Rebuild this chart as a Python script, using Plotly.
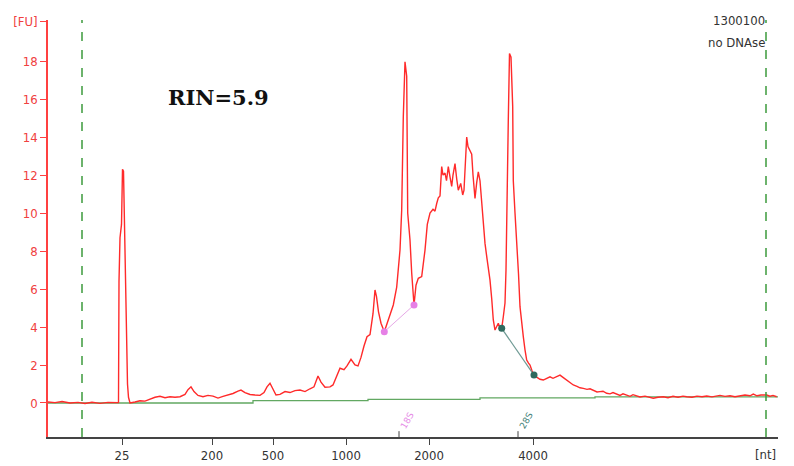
import plotly.graph_objects as go

# migration time (s) and fluorescence (FU)
time_s = [17.0, 17.7, 18.4, 19.2, 20.0, 20.7, 21.4, 22.2, 23.0, 23.7, 24.05,
          24.1, 24.2, 24.35, 24.45, 24.55, 24.65, 24.75, 24.85, 24.95, 25.05, 25.2,
          25.7, 26.2, 26.7, 27.2, 27.7, 28.2, 28.7, 29.2, 29.7, 30.2, 30.7, 31.0, 31.3, 31.6,
          32.0, 32.5, 33.0, 33.5, 34.0, 34.5, 35.0, 35.5, 36.0, 36.3, 36.7, 37.2, 37.7, 38.2,
          38.6, 38.9, 39.2, 39.5, 39.8, 40.2, 40.7, 41.2, 41.7, 42.2, 42.7, 43.2, 43.6, 44.0,
          44.3, 44.7, 45.2, 45.5, 45.9, 46.2, 46.6, 46.9, 47.3, 47.7, 48.0, 48.3, 48.6, 48.9,
          49.2, 49.5, 49.7, 49.85, 50.05, 50.3, 50.63, 50.9, 51.2, 51.53, 51.87, 52.2, 52.37,
          52.53, 52.7, 52.87, 52.97, 53.2, 53.37, 53.6, 53.8, 54.03, 54.37, 54.7, 54.93, 55.2,
          55.5, 55.7, 55.87, 56.03, 56.2, 56.37, 56.5, 56.7, 56.85, 57.03, 57.2, 57.37, 57.5,
          57.7, 57.87, 58.03, 58.27, 58.47, 58.6, 58.7, 58.87, 59.0, 59.2, 59.37, 59.5, 59.7,
          59.87, 60.03, 60.2, 60.37, 60.53, 60.7, 60.9, 61.05, 61.2, 61.37, 61.53, 61.7, 61.87,
          62.03, 62.2, 62.37, 62.53, 62.7, 62.8, 62.9, 63.03, 63.15, 63.3, 63.47, 63.53, 63.7,
          63.87, 64.05, 64.2, 64.37, 64.53, 64.7, 64.87, 65.05, 65.2, 65.4, 65.6, 65.9, 66.2,
          66.53, 66.87, 67.2, 67.5, 67.87, 68.2, 68.5, 68.87, 69.2, 69.53, 69.9, 70.2, 70.53,
          70.9, 71.2, 71.53, 71.9, 72.2, 72.5, 72.87, 73.2, 73.5, 73.87, 74.2, 74.5, 74.87,
          75.2, 75.5, 75.87, 76.2, 76.7, 77.2, 77.53, 78.0, 78.53, 79.0, 79.5, 80.0, 80.5,
          80.87, 81.4, 81.9, 82.4, 82.87, 83.4, 83.8, 84.2, 84.7, 85.2, 85.7, 86.2, 86.7,
          87.2, 87.53, 87.9, 88.3, 88.87, 89.2, 89.5, 89.87]
fu = [0.05, 0.02, 0.08, 0.0, 0.03, -0.03, 0.04, -0.02, 0.03, 0.0, 0.02,
      6.4, 8.7, 9.4, 12.3, 12.2, 9.1, 6.0, 2.8, 1.0, 0.3, 0.0,
      0.05, 0.12, 0.1, 0.2, 0.3, 0.35, 0.28, 0.33, 0.3, 0.33, 0.45, 0.7, 0.85, 0.6,
      0.4, 0.33, 0.4, 0.36, 0.26, 0.35, 0.42, 0.5, 0.62, 0.68, 0.55, 0.45, 0.42, 0.4,
      0.55, 0.85, 1.04, 0.7, 0.42, 0.45, 0.6, 0.55, 0.65, 0.68, 0.6, 0.75, 0.85, 1.42,
      1.1, 0.83, 0.85, 0.95, 1.5, 1.83, 1.75, 1.95, 2.3, 2.0, 1.95, 2.4, 3.0, 3.49,
      3.6, 4.7, 5.95, 5.6, 4.8, 4.2, 3.75, 4.2, 4.72, 5.16, 6.1, 8.05, 10.16,
      15.07, 17.96, 17.2, 10.0, 8.58, 6.84, 5.16, 6.2, 6.56, 6.65, 8.05, 9.4, 10.0,
      10.2, 10.1, 10.5, 10.8, 10.9, 12.44, 12.0, 12.1, 11.7, 12.44, 11.9, 11.4, 12.0,
      12.6, 11.8, 11.2, 11.56, 10.95, 11.2, 12.6, 14.0, 13.5, 13.3, 13.1, 12.0, 10.77,
      11.6, 12.17, 11.7, 10.5, 9.1, 8.4, 7.6, 7.1, 6.47, 5.5, 4.37, 3.84, 4.05,
      4.2, 3.95, 3.93, 4.54, 5.26, 7.0, 11.7, 14.9, 18.4, 18.2, 15.6, 11.7, 10.0,
      8.58, 6.8, 5.07, 4.1, 3.49, 2.8, 2.26, 2.1, 2.0, 1.7, 1.47, 1.35, 1.25,
      1.21, 1.3, 1.38, 1.3, 1.38, 1.47, 1.35, 1.21, 1.1, 0.95, 0.88, 0.8, 0.77,
      0.72, 0.75, 0.68, 0.58, 0.6, 0.62, 0.51, 0.48, 0.55, 0.47, 0.4, 0.48, 0.42,
      0.35, 0.44, 0.37, 0.32, 0.36, 0.28, 0.25, 0.3, 0.33, 0.28, 0.35, 0.3, 0.36,
      0.33, 0.3, 0.36, 0.33, 0.37, 0.32, 0.36, 0.4, 0.35, 0.38, 0.33, 0.37, 0.42,
      0.38, 0.47, 0.38, 0.42, 0.42, 0.36, 0.4, 0.33]

baseline_t = [17.0, 37.5, 49.0, 60.2, 71.7, 90.0]
baseline_fu = [0.0, 0.12, 0.19, 0.27, 0.32, 0.32]

s18_t = [50.63, 53.6]
s18_fu = [3.75, 5.16]
s28_t = [62.37, 65.6]
s28_fu = [3.93, 1.47]

marker_pos = [52.1, 64.0]
marker_labels = ["18S", "28S"]
marker_colors = ["#e68ae6", "#3f7f78"]

window_t = [20.4, 88.8]

xtick_vals = [24.4, 33.4, 39.5, 46.8, 55.1, 65.5]
xtick_text = ["25", "200", "500", "1000", "2000", "4000"]
ytick_vals = [0, 2, 4, 6, 8, 10, 12, 14, 16, 18, 20.1]
ytick_text = ["0", "2", "4", "6", "8", "10", "12", "14", "16", "18", "[FU]"]

TICKFONT = "DejaVu Sans Condensed, DejaVu Sans"

fig = go.Figure()
fig.add_trace(go.Scatter(x=baseline_t, y=baseline_fu, mode="lines", line_shape="hv",
                         line=dict(color="#62a862", width=1.3), hoverinfo="skip"))
fig.add_trace(go.Scatter(x=time_s, y=fu, mode="lines",
                         line=dict(color="#ff2a2a", width=1.4)))
fig.add_trace(go.Scatter(x=s18_t, y=s18_fu, mode="lines+markers",
                         line=dict(color="#e6a8e6", width=1),
                         marker=dict(color="#e680e6", size=7)))
fig.add_trace(go.Scatter(x=s28_t, y=s28_fu, mode="lines+markers",
                         line=dict(color="#6f9a94", width=1.2),
                         marker=dict(color="#2f6a5e", size=7)))

for t in window_t:
    fig.add_shape(type="line", xref="x", yref="paper", x0=t, x1=t, y0=0, y1=1,
                  line=dict(color="#3c9a3c", width=1.5, dash="dash"))

for t, lab, col in zip(marker_pos, marker_labels, marker_colors):
    fig.add_shape(type="line", xref="x", yref="paper", x0=t, x1=t, y0=0, y1=0.014,
                  line=dict(color="#444444", width=1))
    fig.add_annotation(x=t + 0.8, y=-0.95, xref="x", yref="y", text=lab, showarrow=False,
                       textangle=-60, font=dict(family="DejaVu Sans", size=9, color=col))

fig.add_annotation(x=0.1616, y=0.815, xref="paper", yref="paper", text="<b>RIN=5.9</b>",
                   showarrow=False, xanchor="left", yanchor="middle",
                   font=dict(family="DejaVu Serif", size=21, color="#111111"))
fig.add_annotation(x=0.985, y=1.0, xref="paper", yref="paper", text="1300100",
                   showarrow=False, xanchor="right", yanchor="middle",
                   font=dict(family=TICKFONT, size=13, color="#333333"))
fig.add_annotation(x=0.985, y=0.947, xref="paper", yref="paper", text="no DNAse",
                   showarrow=False, xanchor="right", yanchor="middle",
                   font=dict(family=TICKFONT, size=13, color="#333333"))
fig.add_annotation(x=1.0, y=-0.02, xref="paper", yref="paper", text="[nt]",
                   showarrow=False, xanchor="right", yanchor="top",
                   font=dict(family=TICKFONT, size=13, color="#333333"))

fig.update_layout(
    width=794, height=466,
    margin=dict(l=48, r=16, t=20, b=29),
    paper_bgcolor="white", plot_bgcolor="white",
    showlegend=False,
    xaxis=dict(range=[17, 90], showgrid=False, zeroline=False, automargin=False,
               tickvals=xtick_vals, ticktext=xtick_text,
               ticks="outside", ticklen=6, tickcolor="#444444",
               showline=True, linecolor="#444444", linewidth=1.5,
               tickfont=dict(family=TICKFONT, size=13, color="#333333")),
    yaxis=dict(range=[-1.79, 20.16], showgrid=False, zeroline=False, automargin=False,
               tickvals=ytick_vals, ticktext=ytick_text,
               ticks="outside", ticklen=6, tickcolor="#ff4040",
               showline=True, linecolor="#ff4040", linewidth=1.5,
               tickfont=dict(family=TICKFONT, size=13, color="#f04040")),
)

fig.write_html("out.html", config={"displayModeBar": False},
               post_script="document.body.style.margin='0';document.body.style.overflow='hidden';")
